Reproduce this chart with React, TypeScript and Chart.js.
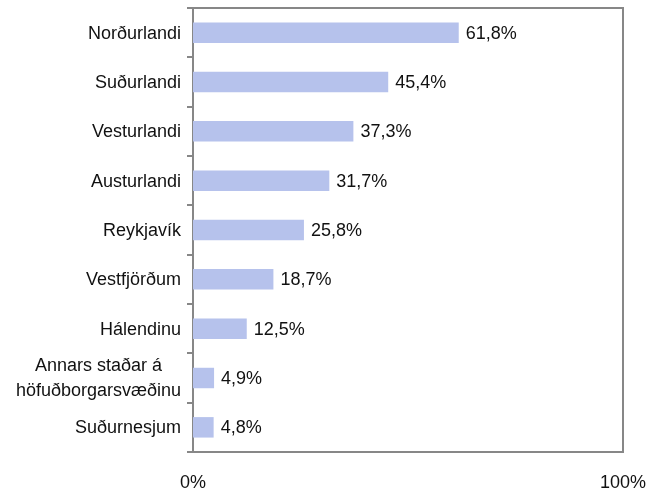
import React, { useEffect, useRef } from "react";
import { Chart, registerables } from "chart.js";

Chart.register(...registerables);

const categories: (string | string[])[] = [
  "Norðurlandi",
  "Suðurlandi",
  "Vesturlandi",
  "Austurlandi",
  "Reykjavík",
  "Vestfjörðum",
  "Hálendinu",
  ["Annars staðar á", "höfuðborgarsvæðinu"],
  "Suðurnesjum",
];

const values = [61.8, 45.4, 37.3, 31.7, 25.8, 18.7, 12.5, 4.9, 4.8];

const xTickValues = [0, 100];

const FONT = "'Liberation Sans', Arial, sans-serif";
const AXIS = "#878787";
const TEXT = "#111";

export default function App() {
  const ref = useRef<HTMLCanvasElement | null>(null);

  useEffect(() => {
    const canvas = ref.current;
    if (!canvas) return;

    const boxPlugin = {
      id: "boxPlugin",
      afterDraw(chart: any) {
        const { ctx, chartArea } = chart;
        ctx.save();
        ctx.strokeStyle = AXIS;
        ctx.lineWidth = 2;
        ctx.beginPath();
        ctx.moveTo(chartArea.left, chartArea.top);
        ctx.lineTo(chartArea.right, chartArea.top);
        ctx.lineTo(chartArea.right, chartArea.bottom);
        ctx.stroke();
        ctx.restore();
      },
    };

    // Category labels: single lines right-aligned, multi-line blocks centred line by line
    const catLabelPlugin = {
      id: "catLabelPlugin",
      afterDraw(chart: any) {
        const { ctx } = chart;
        const yScale = chart.scales.y;
        const right = yScale.right - 12;
        const lh = 25;
        ctx.save();
        ctx.font = `18px ${FONT}`;
        ctx.fillStyle = TEXT;
        ctx.textBaseline = "middle";
        categories.forEach((lab, i) => {
          const y = yScale.getPixelForValue(i);
          if (Array.isArray(lab)) {
            const maxW = Math.max(...lab.map((l) => ctx.measureText(l).width));
            const cx = right - maxW / 2;
            ctx.textAlign = "center";
            const y0 = y - ((lab.length - 1) * lh) / 2;
            lab.forEach((l, k) => ctx.fillText(l, cx, y0 + k * lh + 1));
          } else {
            ctx.textAlign = "right";
            ctx.fillText(lab, right, y + 1);
          }
        });
        ctx.restore();
      },
    };

    const labelPlugin = {
      id: "labelPlugin",
      afterDatasetsDraw(chart: any) {
        const { ctx } = chart;
        const meta = chart.getDatasetMeta(0);
        ctx.save();
        ctx.font = `18px ${FONT}`;
        ctx.fillStyle = TEXT;
        ctx.textAlign = "left";
        ctx.textBaseline = "middle";
        meta.data.forEach((bar: any, i: number) => {
          const v = values[i];
          ctx.fillText(v.toFixed(1).replace(".", ",") + "%", bar.x + 7, bar.y + 1);
        });
        ctx.restore();
      },
    };

    const chart = new Chart(canvas, {
      type: "bar",
      data: {
        labels: categories,
        datasets: [
          {
            data: values,
            backgroundColor: "#b6c2ec",
            borderWidth: 0,
            barPercentage: 0.415,
            categoryPercentage: 1,
          },
        ],
      },
      options: {
        indexAxis: "y",
        animation: false,
        responsive: false,
        maintainAspectRatio: false,
        layout: { padding: { top: 8, right: 26, bottom: 0, left: 0 } },
        plugins: {
          legend: { display: false },
          tooltip: { enabled: false },
        },
        scales: {
          x: {
            min: 0,
            max: 100,
            afterBuildTicks: (s: any) => {
              s.ticks = xTickValues.map((v) => ({ value: v }));
            },
            afterFit: (s: any) => {
              s.height = 43;
              s.paddingLeft = 0;
              s.paddingRight = 0;
            },
            ticks: {
              callback: (v: any) => v + "%",
              padding: 20,
              maxRotation: 0,
              autoSkip: false,
              font: { size: 18, family: FONT },
              color: TEXT,
            },
            grid: { display: false, drawTicks: false },
            border: { display: true, color: AXIS, width: 2 },
          },
          y: {
            afterFit: (s: any) => {
              s.width = 193;
              s.paddingTop = 0;
              s.paddingBottom = 0;
            },
            ticks: {
              padding: 6,
              autoSkip: false,
              font: { size: 18, family: FONT, lineHeight: 1.4 },
              color: "rgba(0,0,0,0)",
            },
            grid: {
              offset: true,
              drawOnChartArea: false,
              drawTicks: true,
              tickLength: 6,
              color: AXIS,
              lineWidth: 2,
            },
            border: { display: true, color: AXIS, width: 2 },
          },
        },
      },
      plugins: [boxPlugin, labelPlugin, catLabelPlugin],
    });

    return () => chart.destroy();
  }, []);

  return (
    <div style={{ position: "fixed", left: 0, top: 0, width: 649, height: 495, background: "#fff" }}>
      <canvas ref={ref} width={649} height={495} style={{ display: "block" }} />
    </div>
  );
}
